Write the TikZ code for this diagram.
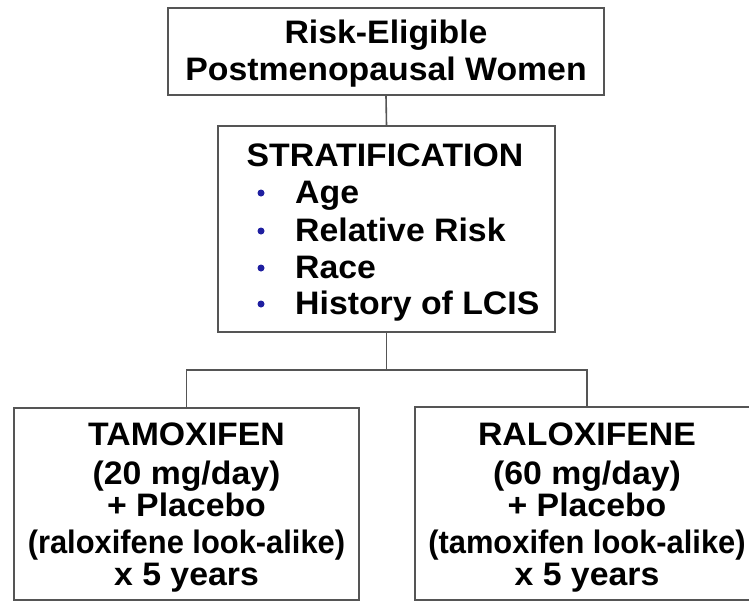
\documentclass[tikz,border=0pt]{standalone}
\usepackage{fontspec}
\setmainfont{Liberation Sans}[FakeStretch=1.04]
\newfontfamily\narrowfont{Liberation Sans}[FakeStretch=0.95]
\definecolor{linegray}{HTML}{555555}
\definecolor{bulletblue}{HTML}{1F1FA0}
\begin{document}
\begin{tikzpicture}[x=1pt,y=-1pt,
  box/.style={draw=linegray, line width=2pt, fill=white, inner sep=0pt},
  conn/.style={draw=linegray, line width=1.6pt},
  txt/.style={anchor=base, inner sep=0pt, font=\fontsize{32.5}{35}\selectfont\bfseries},
  itemtxt/.style={anchor=base west, inner sep=0pt, font=\fontsize{32.5}{35}\selectfont\bfseries},
  ptxt/.style={anchor=base, inner sep=0pt, font=\fontsize{32.5}{35}\narrowfont\bfseries},
  bul/.style={circle, fill=bulletblue, minimum size=7pt, inner sep=0pt}]
\clip (0,0) rectangle (749,603);
\fill[white] (0,0) rectangle (749,603);
% boxes
\node[box, minimum width=436pt, minimum height=87pt] (top) at (386,51.5) {};
\node[box, minimum width=337pt, minimum height=206pt] (mid) at (386.5,229) {};
\node[box, minimum width=345pt, minimum height=192pt] (left) at (186.5,504) {};
\node[box, minimum width=344pt, minimum height=193pt] (right) at (587,503.5) {};
% connectors
\coordinate (split) at (386.5,370);
\draw[conn] (top.south) -- (mid.north);
\draw[conn] (mid.south) -- (split);
\draw[conn] (left.north) |- (split) -| (right.north);
% top text
\node[txt] (t1) at (386,43) {Risk-Eligible};
\node[txt] (t2) at (386,80) {Postmenopausal Women};
% middle text
\node[txt] (strat) at (385,166) {STRATIFICATION};
\node[itemtxt] (i1) at (295,203) {Age};
\node[itemtxt] (i2) at (295,241) {Relative Risk};
\node[itemtxt] (i3) at (295,278) {Race};
\node[itemtxt] (i4) at (295,314) {History of LCIS};
\node[bul] (b1) at (261,193) {};
\node[bul] (b2) at (261,231) {};
\node[bul] (b3) at (261,268) {};
\node[bul] (b4) at (261,304) {};
% left text
\node[txt] (l1) at (186.5,445) {TAMOXIFEN};
\node[txt] (l2) at (186.5,484) {(20 mg/day)};
\node[txt] (l3) at (186.5,516) {+ Placebo};
\node[ptxt] (l4) at (186.5,553) {(raloxifene look-alike)};
\node[txt] (l5) at (186.5,585) {x 5 years};
% right text
\node[txt] (r1) at (587,445) {RALOXIFENE};
\node[txt] (r2) at (587,484) {(60 mg/day)};
\node[txt] (r3) at (587,516) {+ Placebo};
\node[ptxt] (r4) at (587,553) {(tamoxifen look-alike)};
\node[txt] (r5) at (587,585) {x 5 years};
\end{tikzpicture}
\end{document}
